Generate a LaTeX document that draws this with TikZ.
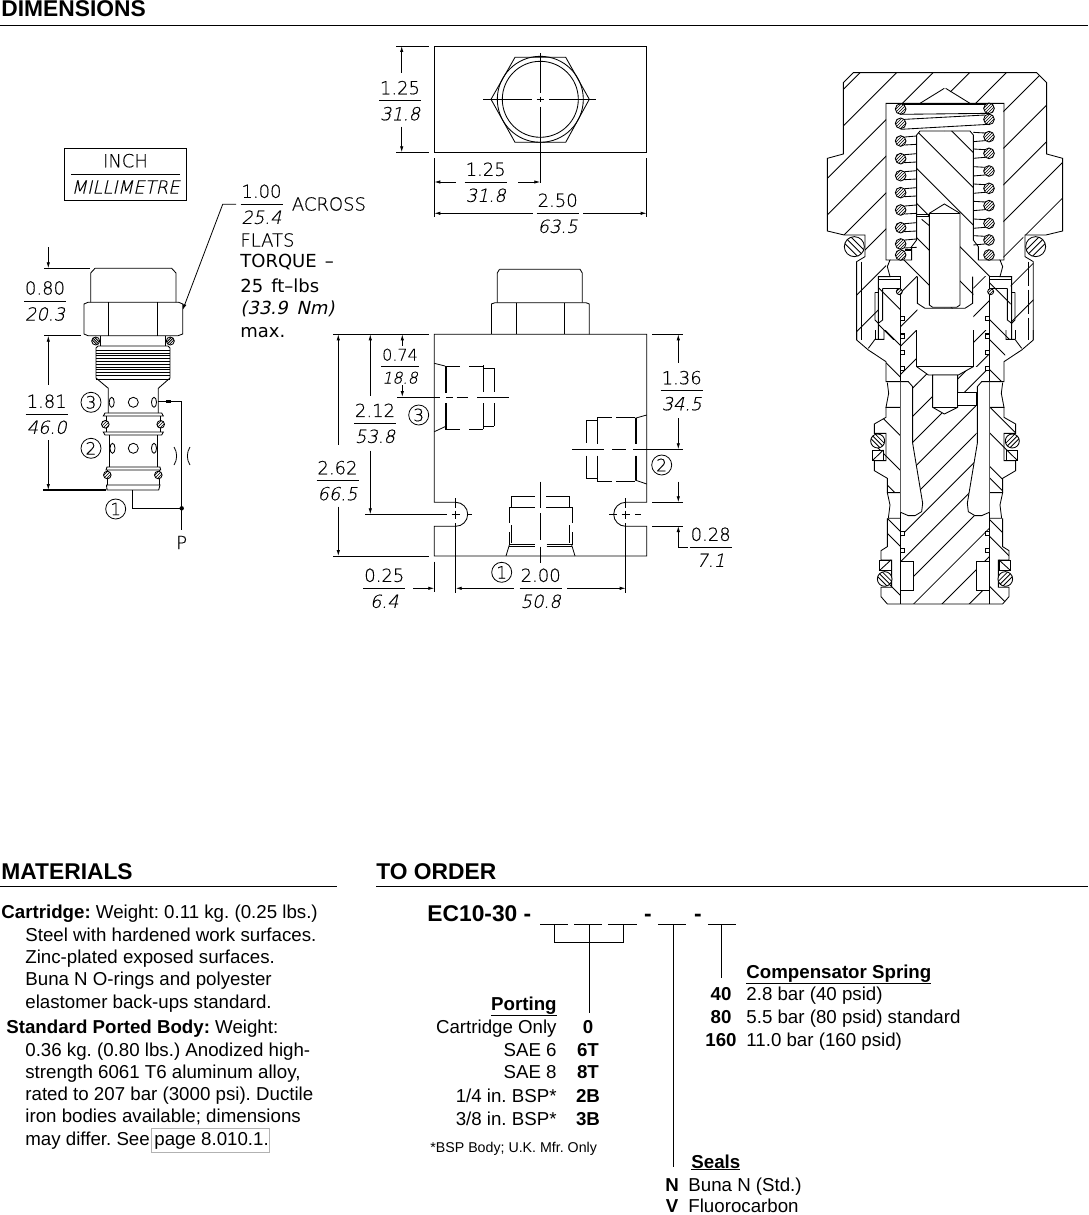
\documentclass[tikz,border=0pt]{standalone}
\usepackage{fontspec}
\setmainfont{Liberation Sans}
\newfontfamily\cadfont[FakeBold=.35]{DejaVu Sans ExtraLight}
\newfontfamily\cadslant[FakeSlant=.22,FakeBold=.35]{DejaVu Sans ExtraLight}
\newfontfamily\cadheavy{DejaVu Sans}
\newfontfamily\cadheavyslant[FakeSlant=.22]{DejaVu Sans}
\usetikzlibrary{arrows.meta,patterns}
\frenchspacing
\tikzset{
  secline/.style={line width=.85pt},
  thinline/.style={line width=.8pt},
  dimin/.style={inner sep=0pt,font=\cadfont\fontsize{18}{20}\selectfont},
  dimmm/.style={inner sep=0pt,font=\cadslant\fontsize{18}{20}\selectfont},
  cadnote/.style={inner sep=0pt,anchor=west,font=\cadfont\fontsize{18}{20}\selectfont},
  cadbold/.style={inner sep=0pt,anchor=west,font=\cadheavy\fontsize{18}{20}\selectfont},
  portmark/.style={draw,circle,line width=.8pt,minimum size=20pt,inner sep=0pt,font=\cadfont\fontsize{17}{17}\selectfont},
  heading/.style={inner sep=0pt,anchor=base west,font=\bfseries\fontsize{22.8}{24}\selectfont},
  bodytext/.style={inner sep=0pt,anchor=base west,font=\fontsize{18.7}{20}\selectfont},
  bodyright/.style={inner sep=0pt,anchor=base east,font=\fontsize{18.7}{20}\selectfont},
  bodycode/.style={inner sep=0pt,anchor=base,font=\bfseries\fontsize{18.7}{20}\selectfont},
  hatchring/.style={draw,secline,fill=white,postaction={pattern=north east lines}},
}
% inch over millimetre
\newcommand{\dimlabel}[4]{%
\begin{scope}[shift={(#2)}]
\node[dimin] (#1in) at (0,-13) {#3};
\draw[thinline] (-21,0) -- (21,0);
\node[dimmm] (#1mm) at (0,13) {#4};
\end{scope}}
% o-ring with stripes
\newcommand{\oring}[4]{%
\begin{scope}
\draw[secline,fill=white] (#1,#2) circle (#3);
\clip (#1,#2) circle (#3);
\foreach \k in {-.45,0,.45}
\draw[secline,rotate around={#4:(#1,#2)}] (#1-#3,#2+\k*#3) -- (#1+#3,#2+\k*#3);
\end{scope}}
% hatching, x+y=c or x-y=c
\newcommand{\hatchup}[2]{%
\begin{scope}
\clip #1;
\foreach \c in {#2} \draw[secline] (\c,0) -- (\c-1600,1600);
\end{scope}}
\newcommand{\hatchdown}[2]{%
\begin{scope}
\clip #1;
\foreach \c in {#2} \draw[secline] (\c,0) -- (\c+1600,1600);
\end{scope}}
% one side of the section, upper part
\newcommand{\sideupper}{%
\draw[secline] (405,38) -- (130,38) -- (100,68) -- (100,282) -- (52,295) -- (52,513) -- (102,525) -- (165,525) -- (165,590) -- (140,605) -- (140,840);
\draw[secline] (405,130) -- (228,130) -- (228,600) -- (240,600) -- (232,620) -- (240,650) -- (205,650) -- (205,840);
\draw[secline] (330,130) -- (403,85);
\draw[secline] (405,213) -- (330,213) -- (320,225) -- (320,540) -- (305,560) -- (305,600) -- (240,600);
\draw[secline] (322,650) -- (322,730) -- (345,745) -- (405,745);
\draw[secline] (205,650) -- (272,650) -- (272,840);
\draw[secline] (208,658) -- (272,658);
\draw[secline] (218,685) -- (272,685);
\draw[secline] (218,685) -- (218,780) -- (205,790);
\draw[secline] (195,697) -- (205,697);
\draw[secline] (195,697) -- (195,780) -- (205,790);
\draw[hatchring] (268,695) circle (9);
\foreach \yy in {770,820}
\draw[secline,fill=white] (272,\yy) rectangle (283,\yy+12);
}
% one side of the section, lower part
\newcommand{\sidelower}{%
\draw[secline] (140,0) -- (140,30) -- (175,60) -- (228,95) -- (228,155) -- (272,155);
\draw[secline] (175,55) -- (195,28) -- (222,28) -- (222,0);
\draw[secline] (195,0) -- (195,28);
\draw[secline] (232,158) -- (236,190) -- (228,232) -- (272,232);
\draw[secline] (228,232) -- (228,262) -- (193,282) -- (193,310) -- (228,310) -- (228,392) -- (193,392) -- (193,422) -- (232,445) -- (232,488) -- (272,488);
\draw[secline] (232,488) -- (240,525) -- (235,565) -- (272,565);
\draw[secline] (232,565) -- (232,650) -- (213,662) -- (213,690) -- (245,690) -- (245,772) -- (213,772) -- (213,800) -- (232,822) -- (405,822);
\draw[secline] (272,0) -- (272,822);
\draw[secline,fill=white] (272,695) -- (310,695) -- (310,780) -- (272,780);
\draw[secline,fill=white] (272,155) -- (295,155) -- (308,170) -- (308,340) -- (338,520) -- (335,545) -- (315,557) -- (295,557) -- (272,547);
\foreach \yy in {12,60,110,604,655}
\draw[secline,fill=white] (272,\yy) rectangle (283,\yy+12);
\draw[secline,fill=white] (187,360) rectangle (220,392);
\draw[secline] (187,392) -- (220,360);
\oring{203}{333}{21}{-45}
\draw[secline,fill=white] (208,690) rectangle (243,722);
\draw[secline] (208,722) -- (243,690);
\oring{224}{747}{22}{-45}
}
\begin{document}
\begin{tikzpicture}[x=1pt,y=-1pt,>={Latex[length=6pt,width=3.4pt]},thinline]
\useasboundingbox (0,0) rectangle (1088,1215);

% headings
\node[heading] (dimhead) at (1,17) {DIMENSIONS};
\draw[thinline] (0,25) -- (1088,25);
\node[heading] (mathead) at (1,879) {MATERIALS};
\draw[thinline] (0,886) -- (337,886);
\node[heading] (ordhead) at (376,879) {TO ORDER};
\draw[thinline] (376,886) -- (1088,886);

% key box
\draw[thinline] (64.3,148.3) rectangle (186.7,200.7);
\node[dimin] (keyin) at (125.5,160.7) {INCH};
\draw[thinline] (71,174) -- (180,174);
\node[dimmm] (keymm) at (125.5,187) {MILLIMETRE};

% cartridge, side view
\draw[secline] (95,268.3) -- (171.7,268.3) -- (176,273) -- (176,302.3);
\draw[secline] (95,268.3) -- (90.7,273) -- (90.7,302.3);
\draw[secline] (84,304) -- (88,302.3) -- (178.7,302.3) -- (182.7,304) -- (182.7,334) -- (178,335.7) -- (88,335.7) -- (84,334) -- cycle;
\draw[secline] (108.3,302.3) -- (108.3,335.7);
\draw[secline] (157.7,302.3) -- (157.7,335.7);
\draw[secline] (100.7,335.7) -- (100.7,346);
\draw[secline] (165,335.7) -- (165,346);
\draw[secline] (98,346) -- (168,346) -- (170,348) -- (170,378) -- (158.3,388.3) -- (158.3,413);
\draw[secline] (98,346) -- (96,348) -- (96,378) -- (108.3,388.3) -- (108.3,413);
\draw[secline] (96,379) -- (170,379);
\foreach \yy in {350,352.8,...,376} \draw[line width=.4pt] (96,\yy) -- (170,\yy);
\oring{95.7}{341}{4}{-45}
\oring{170.3}{341}{4}{45}
\draw[secline] (133.3,402.3) circle (5);
\draw[secline] (111.7,402.3) ellipse (2.5 and 5);
\draw[secline] (154,402.3) ellipse (2.5 and 5);
\draw[secline] (105,413) -- (161.7,413) -- (163.3,416) -- (103.3,416) -- cycle;
\draw[secline] (106,416) -- (106,432);
\draw[secline] (160.7,416) -- (160.7,432);
\draw[secline] (103.3,432) -- (163.3,432) -- (161.7,435) -- (105,435) -- cycle;
\draw[hatchring] (105.3,424.3) circle (3.8);
\draw[hatchring] (160.7,424.3) circle (3.8);
\draw[secline] (109.3,435) -- (109.3,467);
\draw[secline] (157.3,435) -- (157.3,467);
\draw[secline] (133.3,448.3) circle (5);
\draw[secline] (112.5,448.3) ellipse (2.5 and 5);
\draw[secline] (154,448.3) ellipse (2.5 and 5);
\draw[secline] (107,467) -- (160,467) -- (160.7,470) -- (106,470) -- cycle;
\draw[secline] (107.5,470) -- (107.5,485);
\draw[secline] (159,470) -- (159,485);
\draw[secline] (106.5,485) -- (160,485) -- (158.7,490) -- (107,490) -- cycle;
\draw[hatchring] (107.3,475) circle (3.8);
\draw[hatchring] (158.3,475) circle (3.8);
\node[portmark] (side3) at (91,402.3) {3};
\node[portmark] (side2) at (91,448.3) {2};
\node[portmark] (side1) at (115.7,509) {1};
% circuit beside the cartridge
\coordinate (port3) at (158.3,401.7);
\coordinate (port1) at (132.7,490);
\coordinate (tee) at (181.7,508.3);
\node[dimin] (pres) at (181.7,542.5) {P};
\draw[thinline,{Square[length=5pt,width=3pt]}-] (166,401.7) -- (181.7,401.7) -- (181.7,530);
\draw[thinline] (port3) -- (166,401.7);
\draw[thinline] (port1) -- (132.7,508.3) -- (tee);
\fill (tee) circle (2.2);
\draw[thinline] (174,447) .. controls (177.5,452) and (177.5,460) .. (174,465);
\draw[thinline] (190,447) .. controls (186.5,452) and (186.5,460) .. (190,465);
% side view dimensions
\draw[thinline] (44,268.3) -- (90,268.3);
\draw[thinline,->] (48.3,247.3) -- (48.3,268.3);
\dimlabel{top}{45,301}{0.80}{20.3}
\draw[thinline] (44,335.7) -- (81,335.7);
\draw[thinline,<-] (48.3,335.7) -- (48.3,385);
\dimlabel{len}{46.7,414.3}{1.81}{46.0}
\draw[thinline,->] (48.3,440) -- (48.3,490);
\draw[line width=1.3pt] (43.3,490) -- (105.7,490);
% across flats note
\dimlabel{flat}{261.5,204.3}{1.00}{25.4}
\coordinate (hexedge) at (182.7,310);
\draw[thinline,->] (236,204.3) -- (222.7,204.3) -- (hexedge);
\node[cadnote] (across) at (291.5,204) {ACROSS};
\node[cadnote] (flats) at (240,240) {FLATS};
\node[cadbold] (torque) at (240,261.7) {TORQUE\hspace{8pt}–};
\node[cadbold] (ftlbs) at (240,285.7) {25\hspace{8pt}ft–lbs};
\node[cadbold,font=\cadheavyslant\fontsize{18}{20}\selectfont] (metric) at (240,309) {(33.9\hspace{9pt}Nm)};
\node[cadbold] (maxnote) at (240,333) {max.};

% top view
\draw[secline] (434.3,46) rectangle (646.7,152.3);
\draw[secline] (491,99.3) -- (515,57.3) -- (565.7,57.3) -- (589.3,99.3) -- (565.7,142.3) -- (515,142.3) -- cycle;
\draw[secline] (540.3,99.3) circle (43);
\draw[secline] (540.3,99.3) circle (38);
\draw[thinline] (483.3,99.3) -- (531.7,99.3);
\draw[thinline] (536.7,99.3) -- (544,99.3);
\draw[thinline] (549.3,99.3) -- (596,99.3);
\draw[thinline] (540.3,53.3) -- (540.3,93.3);
\draw[thinline] (540.3,96.7) -- (540.3,102.3);
\draw[thinline] (540.3,106.7) -- (540.3,183.3);
\draw[thinline] (396,46) -- (429,46);
\draw[thinline] (396,152.3) -- (429,152.3);
\draw[thinline,<-] (401.7,46) -- (401.7,72.7);
\dimlabel{wid}{400,100.7}{1.25}{31.8}
\draw[thinline,->] (401.7,126.7) -- (401.7,152.3);
\draw[thinline] (434.3,158.3) -- (434.3,216.7);
\draw[thinline] (646.7,158.3) -- (646.7,216.7);
\draw[thinline,<-] (434.3,182) -- (456,182);
\dimlabel{half}{485.7,182.3}{1.25}{31.8}
\draw[thinline,->] (518.3,182) -- (540.3,182);
\draw[thinline,<-] (434.3,213.3) -- (532.7,213.3);
\dimlabel{full}{557.7,213.3}{2.50}{63.5}
\draw[thinline,->] (583.3,213.3) -- (646.7,213.3);

% front view
\draw[secline] (499.5,269.3) -- (580,269.3) -- (582.3,273) -- (582.3,302.7);
\draw[secline] (499.5,269.3) -- (497.3,273) -- (497.3,302.7);
\draw[secline] (491.3,304) -- (495,302.7) -- (586,302.7) -- (589.3,304) -- (589.3,334.3);
\draw[secline] (491.3,304) -- (491.3,334.3);
\draw[secline] (516.7,302.7) -- (516.7,334.3);
\draw[secline] (564.3,302.7) -- (564.3,334.3);
\draw[secline] (434.3,334.3) -- (646.7,334.3) -- (646.7,502.3) -- (625.7,502.3) arc (270:90:12) -- (646.7,526.3) -- (646.7,556) -- (434.3,556) -- (434.3,526.3) -- (455.7,526.3) arc (90:-90:12) -- (434.3,502.3) -- cycle;
% port 3, left
\begin{scope}
\draw[thinline] (434.3,363.3) -- (445,366);
\draw[thinline] (434.3,431.7) -- (445,426.7);
\draw[thinline] (445,366) -- (445,392.7);
\draw[thinline] (446.7,366) -- (446.7,392.7);
\draw[thinline] (445,403.3) -- (445,429);
\draw[thinline] (446.7,403.3) -- (446.7,429);
\draw[thinline] (445,366) -- (460,366);
\draw[thinline] (469.3,366) -- (483.3,366);
\draw[thinline] (445,429) -- (460,429);
\draw[thinline] (469.3,429) -- (483.3,429);
\draw[thinline] (483.3,368.3) -- (494.3,368.3);
\draw[thinline] (483.3,426) -- (494.3,426);
\draw[thinline] (483.3,365) -- (483.3,392);
\draw[thinline] (483.3,403.3) -- (483.3,429);
\draw[thinline] (494.3,368.3) -- (494.3,392);
\draw[thinline] (494.3,403.3) -- (494.3,426);
\draw[thinline] (397.3,397) -- (440,397);
\draw[thinline] (446,397) -- (453,397);
\draw[thinline] (456.7,397) -- (468.3,397);
\draw[thinline] (477.3,397) -- (509,397);
\end{scope}
% port 2, right
\begin{scope}
\draw[thinline] (646.7,415) -- (635,418.3);
\draw[thinline] (646.7,484) -- (635,480);
\draw[thinline] (635,418) -- (635,444.3);
\draw[thinline] (636.7,418) -- (636.7,444.3);
\draw[thinline] (635,455.7) -- (635,480);
\draw[thinline] (636.7,455.7) -- (636.7,480);
\draw[thinline] (597.3,417.3) -- (611.7,417.3);
\draw[thinline] (616,417.3) -- (635,417.3);
\draw[thinline] (597.3,481) -- (611.7,481);
\draw[thinline] (616,481) -- (635,481);
\draw[thinline] (586,420) -- (597.3,420);
\draw[thinline] (586,478.3) -- (597.3,478.3);
\draw[thinline] (597.3,417.3) -- (597.3,444);
\draw[thinline] (597.3,455.7) -- (597.3,481);
\draw[thinline] (586,420) -- (586,443);
\draw[thinline] (586,455.7) -- (586,478.3);
\draw[thinline] (572.3,449.3) -- (604,449.3);
\draw[thinline] (612.3,449.3) -- (626,449.3);
\draw[thinline] (633.3,449.3) -- (682.7,449.3);
\end{scope}
% port 1, bottom
\begin{scope}
\draw[thinline] (506,556) -- (509.3,545);
\draw[thinline] (575,556) -- (571.7,545);
\draw[thinline] (509.3,544.3) -- (535,544.3);
\draw[thinline] (509.3,546) -- (535,546);
\draw[thinline] (546.7,544.3) -- (571.7,544.3);
\draw[thinline] (546.7,546) -- (571.7,546);
\draw[thinline] (511,496.3) -- (535,496.3);
\draw[thinline] (546,496.3) -- (569.3,496.3);
\draw[thinline] (509.3,507.3) -- (535,507.3);
\draw[thinline] (546,507.3) -- (572.3,507.3);
\draw[thinline] (511,496.3) -- (511,507.3);
\draw[thinline] (569.3,496.3) -- (569.3,507.3);
\draw[thinline] (511,525) -- (511,543.3);
\draw[thinline] (569.3,525) -- (569.3,543.3);
\draw[thinline] (509.3,507.3) -- (509.3,523);
\draw[thinline] (509.3,532) -- (509.3,545);
\draw[thinline] (572.3,507.3) -- (572.3,523);
\draw[thinline] (572.3,532) -- (572.3,545);
\draw[thinline] (540.3,481.7) -- (540.3,508.3);
\draw[thinline] (540.3,513.3) -- (540.3,540);
\draw[thinline] (540.3,546.7) -- (540.3,563.3);
\end{scope}
\node[portmark] (front3) at (418.7,415) {3};
\node[portmark] (front2) at (661.7,465) {2};
\node[portmark] (front1) at (501.7,572.3) {1};
% mounting holes
\draw[thinline] (365.3,514.3) -- (446.7,514.3);
\draw[thinline] (451.5,514.3) -- (460,514.3);
\draw[thinline] (466.7,514.3) -- (471.7,514.3);
\foreach \xx in {455.7,625.7} {
\draw[thinline] (\xx,498) -- (\xx,508);
\draw[thinline] (\xx,510.5) -- (\xx,518.5);
\draw[thinline] (\xx,523) -- (\xx,592.7);
}
\draw[thinline] (609,514.3) -- (616.7,514.3);
\draw[thinline] (621.7,514.3) -- (630,514.3);
\draw[thinline] (635,514.3) -- (640.7,514.3);
% front view dimensions
\draw[thinline] (333.3,334.3) -- (429,334.3);
\draw[thinline] (333.3,556) -- (429,556);
\draw[thinline,<-] (338.3,334.3) -- (338.3,445);
\dimlabel{tall}{337.5,480.7}{2.62}{66.5}
\draw[thinline,->] (338.3,506.7) -- (338.3,556);
\draw[thinline,<-] (370.3,334.3) -- (370.3,396);
\dimlabel{hole}{375,423.3}{2.12}{53.8}
\draw[thinline,->] (370.3,450.7) -- (370.3,514.3);
\draw[thinline,<-] (402.3,334.3) -- (402.3,346);
\begin{scope}[shift={(400,366.7)}]
\node[dimin,font=\cadfont\fontsize{16}{18}\selectfont] (upin) at (0,-12) {0.74};
\draw[thinline] (-19,0) -- (19,0);
\node[dimmm,font=\cadslant\fontsize{16}{18}\selectfont] (upmm) at (0,11) {18.8};
\end{scope}
\draw[thinline,->] (402.3,385) -- (402.3,397);
\draw[thinline] (652.3,334.3) -- (683.3,334.3);
\draw[thinline,<-] (678.3,334.3) -- (678.3,362.7);
\dimlabel{right}{681.7,390.7}{1.36}{34.5}
\draw[thinline,->] (678.3,418.3) -- (678.3,449.3);
\draw[thinline,->] (678.3,481.7) -- (678.3,502.3);
\draw[thinline] (652.3,502.3) -- (683.3,502.3);
\draw[thinline] (652.3,526) -- (683.3,526);
\draw[thinline,<-] (678.3,526) -- (678.3,547.3) -- (688.3,547.3);
\dimlabel{foot}{710.7,547.3}{0.28}{7.1}
\dimlabel{edge}{384.3,588.3}{0.25}{6.4}
\draw[thinline,->] (413.3,588.3) -- (434.3,588.3);
\draw[thinline] (434.3,561.7) -- (434.3,592.3);
\draw[thinline,<-] (455.7,588.3) -- (514,588.3);
\dimlabel{span}{540.7,588.3}{2.00}{50.8}
\draw[thinline,->] (567.3,588.3) -- (625.7,588.3);

% section, upper part
\begin{scope}[shift={(810,60)},x=.3333pt,y=-.3333pt]
\hatchup{(130,38) -- (680,38) -- (710,68) -- (710,285) -- (757,295) -- (757,513) -- (705,525) -- (640,525) -- (640,590) -- (670,605) -- (670,840) -- (602,840) -- (602,650) -- (570,650) -- (580,620) -- (580,130) -- (478,130) -- (403,85) -- (330,130) -- (228,130) -- (228,620) -- (240,650) -- (205,650) -- (205,840) -- (140,840) -- (140,605) -- (165,590) -- (165,525) -- (102,525) -- (52,513) -- (52,295) -- (100,282) -- (100,68) -- cycle}{188,298,407,517,627,735,845,955,1065,1172,1280,1390}
\hatchdown{(320,225) -- (330,213) -- (480,213) -- (490,225) -- (490,540) -- (505,565) -- (505,600) -- (575,600) -- (580,620) -- (570,650) -- (490,650) -- (490,720) -- (460,745) -- (345,745) -- (322,730) -- (322,650) -- (240,650) -- (232,620) -- (240,600) -- (305,600) -- (305,560) -- (320,540) -- cycle}{212,107,-5,-110,-213,-318,-423,-528}
\hatchup{(272,650) rectangle (322,840)}{970,1072}
\hatchup{(490,650) rectangle (538,840)}{1175,1260}
\hatchdown{(205,658) rectangle (272,840)}{-478,-588}
\hatchdown{(538,658) rectangle (602,840)}{-130,-240}
\sideupper
\begin{scope}[shift={(810,0)},xscale=-1]
\sideupper
\end{scope}
\draw[secline] (155,605) -- (155,840);
\draw[secline,dashed,dash pattern=on 24pt off 4pt] (655,605) -- (655,840);
% bore
\draw[secline,fill=white] (358,460) -- (403,432) -- (450,460) -- (450,735) -- (440,742) -- (368,742) -- (358,735) -- cycle;
\draw[secline] (358,460) -- (450,460);
\draw[secline] (320,462) -- (358,462);
\draw[secline] (320,470) -- (358,470);
\draw[secline] (335,478) -- (358,497);
% spring
\draw[secline] (272,133) -- (537,133);
\draw[secline] (272,163) -- (537,160);
\draw[secline] (285,178) -- (525,165);
\draw[secline] (272,208) -- (537,193);
\foreach \yy in {243,296,347,398,450,503,552} {
\draw[secline] (285,\yy-12) -- (320,\yy-15);
\draw[secline] (285,\yy+12) -- (320,\yy+10);
}
\foreach \yy in {230,280,333,385,437,490,540} {
\draw[secline] (525,\yy-11) -- (490,\yy-13);
\draw[secline] (525,\yy+12) -- (490,\yy+15);
}
\draw[line width=1.2pt] (285,570) -- (305,570);
\foreach \yy in {147,190,243,296,347,398,450,503,552,585}
\draw[hatchring] (272,\yy) circle (16);
\foreach \yy in {145,178,230,280,333,385,437,490,540,585}
\draw[hatchring] (537,\yy) circle (16);
\oring{133}{560}{30}{-45}
\oring{677}{560}{30}{45}
\end{scope}

% section, lower part
\begin{scope}[shift={(810,330)},x=.3333pt,y=-.3333pt]
\hatchup{(355,135) -- (368,135) -- (368,232) -- (403,252) -- (443,232) -- (443,225) -- (500,225) -- (500,360) -- (472,520) -- (475,545) -- (495,557) -- (515,557) -- (538,547) -- (538,822) -- (272,822) -- (272,547) -- (295,557) -- (315,557) -- (335,545) -- (338,520) -- (308,340) -- (308,170) -- cycle}{482,567,645,725,810,890,967,1050,1133,1218,1300}
\hatchup{(445,135) -- (490,110) -- (538,110) -- (538,155) -- (515,155) -- (500,170) -- (500,187) -- (443,187) -- cycle}{590,650}
\hatchup{(272,0) -- (320,0) -- (320,110) -- (355,135) -- (308,170) -- (295,155) -- (272,155) -- cycle}{320,405,482}
\hatchup{(490,0) -- (538,0) -- (538,110) -- (490,110) -- cycle}{528,610}
\hatchdown{(222,0) -- (272,0) -- (272,155) -- (228,155) -- (228,95) -- (222,60) -- cycle}{225,130}
\hatchdown{(538,0) -- (588,0) -- (588,60) -- (582,95) -- (582,155) -- (538,155) -- cycle}{510,420}
\hatchdown{(228,232) -- (272,232) -- (272,488) -- (232,488) -- (232,445) -- (193,422) -- (193,282) -- (228,262) -- cycle}{-46,-150,-233}
\hatchdown{(538,232) -- (582,232) -- (582,262) -- (617,282) -- (617,422) -- (578,445) -- (578,488) -- (538,488) -- cycle}{308,230,130,95}
\hatchdown{(232,565) -- (272,565) -- (272,822) -- (232,822) -- (213,800) -- (213,662) -- (232,650) -- cycle}{-333,-378,-525}
\hatchdown{(538,565) -- (578,565) -- (578,650) -- (597,662) -- (597,800) -- (578,822) -- (538,822) -- cycle}{-30,-80,-230}
\sidelower
\begin{scope}[shift={(810,0)},xscale=-1]
\sidelower
\end{scope}
\draw[secline] (320,0) -- (320,110) -- (490,110) -- (490,0);
\draw[secline] (320,110) -- (355,135) -- (445,135) -- (490,110);
\draw[secline,fill=white] (368,135) -- (443,135) -- (443,232) -- (403,252) -- (368,232) -- cycle;
\draw[secline,fill=white] (443,187) rectangle (500,225);
\draw[secline] (368,232) -- (443,232);
\end{scope}

% materials
\node[bodytext] (m1) at (1,918) {\textbf{Cartridge:} Weight: 0.11 kg. (0.25 lbs.)};
\node[bodytext] (m2) at (25,941) {Steel with hardened work surfaces.};
\node[bodytext] (m3) at (25,963) {Zinc-plated exposed surfaces.};
\node[bodytext] (m4) at (25,985) {Buna N O-rings and polyester};
\node[bodytext] (m5) at (25,1008) {elastomer back-ups standard.};
\node[bodytext] (m6) at (6,1033) {\textbf{Standard Ported Body:} Weight:};
\node[bodytext] (m7) at (25,1056) {0.36 kg. (0.80 lbs.) Anodized high-};
\node[bodytext] (m8) at (25,1078) {strength 6061 T6 aluminum alloy,};
\node[bodytext] (m9) at (25,1100) {rated to 207 bar (3000 psi). Ductile};
\node[bodytext] (m10) at (25,1122) {iron bodies available; dimensions};
\node[bodytext] (m11) at (25,1145) {may differ. See};
\node[bodytext] (m12) at (154,1145) {page 8.010.1.};
\draw[line width=1pt,color=black!30] (151,1128) rectangle (269,1152);

% to order
\node[inner sep=0pt,anchor=base west,font=\bfseries\fontsize{22.8}{24}\selectfont] (model) at (427,921) {EC10-30 -};
\foreach \xa/\xb in {540/568,574/602,608/637,658/686,708/736}
\draw[line width=1.2pt] (\xa,924.5) -- (\xb,924.5);
\node[inner sep=0pt,anchor=base,font=\bfseries\fontsize{22.8}{24}\selectfont] (dasha) at (648,921) {-};
\node[inner sep=0pt,anchor=base,font=\bfseries\fontsize{22.8}{24}\selectfont] (dashb) at (698,921) {-};
\node[bodyright,font=\bfseries\fontsize{18.7}{20}\selectfont] (porting) at (557,1010) {\underline{Porting}};
\node[bodyright] (p1) at (557,1033) {Cartridge Only};
\node[bodyright] (p2) at (557,1056) {SAE 6};
\node[bodyright] (p3) at (557,1078) {SAE 8};
\node[bodyright] (p4) at (557,1102) {1/4 in. BSP*};
\node[bodyright] (p5) at (557,1125) {3/8 in. BSP*};
\node[bodycode] (c1) at (588,1033) {0};
\node[bodycode] (c2) at (588,1056) {6T};
\node[bodycode] (c3) at (588,1078) {8T};
\node[bodycode] (c4) at (588,1102) {2B};
\node[bodycode] (c5) at (588,1125) {3B};
\node[inner sep=0pt,anchor=base west,font=\fontsize{14.2}{15}\selectfont] (bspnote) at (430,1152) {*BSP Body; U.K. Mfr. Only};
\node[bodytext,font=\bfseries\fontsize{18.7}{20}\selectfont] (spring) at (746,978) {\underline{Compensator Spring}};
\node[bodytext] (s1) at (746,1000) {2.8 bar (40 psid)};
\node[bodytext] (s2) at (746,1023) {5.5 bar (80 psid) standard};
\node[bodytext] (s3) at (746,1046) {11.0 bar (160 psid)};
\node[bodycode] (k1) at (721,1000) {40};
\node[bodycode] (k2) at (721,1023) {80};
\node[bodycode] (k3) at (721,1046) {160};
\node[bodytext,font=\bfseries\fontsize{18.7}{20}\selectfont] (seals) at (691,1168) {\underline{Seals}};
\node[bodytext] (n1) at (688,1191) {Buna N (Std.)};
\node[bodytext] (n2) at (688,1212.5) {Fluorocarbon};
\node[bodycode] (nc1) at (672,1191) {N};
\node[bodycode] (nc2) at (672,1212.5) {V};
% selection lines
\coordinate (brleft) at (554.3,924.5);
\coordinate (brmid) at (589.4,924.5);
\coordinate (brright) at (623,924.5);
\coordinate (sealtop) at (673.8,924.5);
\coordinate (springtop) at (721,924.5);
\draw[thinline] (brleft) -- (554.3,942.3) -- (623,942.3) -- (brright);
\draw[thinline] (brmid) -- (589.4,1013.3);
\draw[thinline] (sealtop) -- (673.8,1166.7);
\draw[thinline] (springtop) -- (721,977.7);
\end{tikzpicture}
\end{document}
